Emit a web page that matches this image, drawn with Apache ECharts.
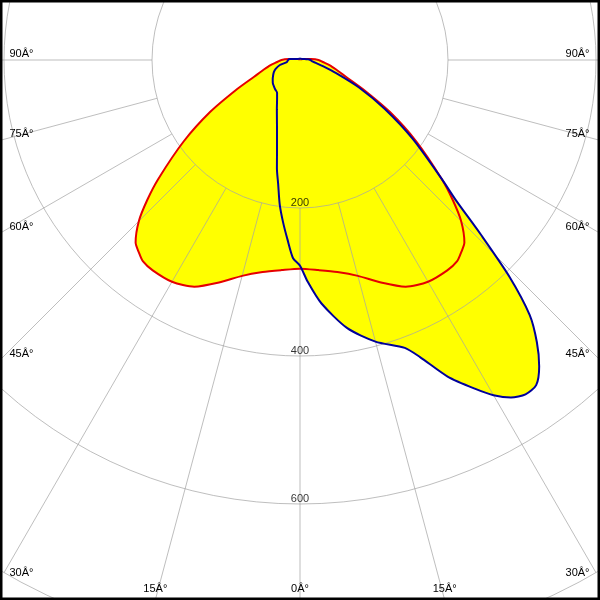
<!DOCTYPE html>
<html>
<head>
<meta charset="utf-8">
<script src="https://cdn.jsdelivr.net/npm/echarts@6/dist/echarts.min.js"></script>
<style>
html,body{margin:0;padding:0;background:#fff;}
#c{width:600px;height:600px;}
</style>
</head>
<body>
<div id="c"></div>
<script>
// C0 - C180 plane (red), symmetric: gamma (deg) and intensity
const redGamma = [0,5,10,15,20,25,30,35,38,40,42,45,47.5,50,55,60,65,70,75,80,85,90,95,100,110,120,135,150,165,180];
const redI     = [282,285,291,302,320,338,346,347,345,339,332,308,280,250,192,140,95,66,51,41,31,25,15,8,4,2,1,1,1,1];

// C90 - C270 plane (blue): gamma (deg, negative = left) and intensity
const blueGamma = [-180,-150,-120,-110,-100,-95,-90,-85,-81,-76,-70,-65,-60,-55,-50,-45,-40,-35,-30,-25,-20,-15,-12,-10,-8,-6,-4,-2,0,2,5,10,15,20,22,25,28,30,32,34,36,38,40,42,44,46,48,50,55,60,65,70,75,80,85,90,95,100,110,120,150,180];
const blueI     = [2,2,3,4,8,14,16,17,18,28,35,39,42,45,48,50,52,54,62,74,91,120,150,170,197,220,243,268,278,300,330,368,394,414,433,472,503,523,538,545,543,525,498,464,408,340,284,250,186,132,88,52,32,21,16,14,11,7,4,3,2,2];

// Grid
const ringValues = [200, 400, 600, 800];
const ringLabels = ['200', '400', '600'];
const spokeAngles = [-90,-75,-60,-45,-30,-15,0,15,30,45,60,75,90];
const spokeLabels = ['90Â°','75Â°','60Â°','45Â°','30Â°','15Â°','0Â°','15Â°','30Â°','45Â°','60Â°','75Â°','90Â°'];

const GRID = 'rgba(165,165,165,0.72)';
const FONT = 'Liberation Sans';

// build closed polar paths [radius, angle]
const redData = [];
for (let i = redGamma.length - 1; i >= 0; i--) redData.push([redI[i], -redGamma[i]]);
for (let i = 1; i < redGamma.length; i++) redData.push([redI[i], redGamma[i]]);
const blueData = blueGamma.map((g, i) => [blueI[i], g]);

const chart = echarts.init(document.getElementById('c'), null, {renderer: 'canvas'});

const series = [];
// yellow fills
[redData, blueData].forEach(d => series.push({
  type: 'line', coordinateSystem: 'polar', data: d, smooth: 0.25, symbol: 'none',
  lineStyle: {opacity: 0, width: 0}, areaStyle: {color: '#ffff00', opacity: 1},
  z: 1, silent: true, animation: false, clip: false
}));
// spokes
spokeAngles.forEach(a => series.push({
  type: 'line', coordinateSystem: 'polar', data: [[200, a], [1000, a]], symbol: 'none',
  lineStyle: {color: GRID, width: 1}, z: 5, silent: true, animation: false, clip: false
}));
// curves
series.push({
  type: 'line', coordinateSystem: 'polar', data: redData, smooth: 0.25, symbol: 'none',
  lineStyle: {color: '#e60000', width: 2}, z: 10, animation: false, clip: false
});
series.push({
  type: 'line', coordinateSystem: 'polar', data: blueData, smooth: 0.25, symbol: 'none',
  lineStyle: {color: '#00009a', width: 2}, z: 11, animation: false, clip: false
});
// ring labels
series.push({
  type: 'scatter', coordinateSystem: 'polar', symbolSize: 1,
  itemStyle: {color: 'transparent'},
  data: ringLabels.map(t => [Number(t), 0]),
  label: {show: true, position: 'inside', offset: [0, -5.5], formatter: p => String(p.value[0]),
          color: '#000', fontSize: 11, fontFamily: FONT},
  z: 12, animation: false, silent: true
});

chart.setOption({
  backgroundColor: '#fff',
  animation: false,
  polar: {center: [300, 60], radius: 592},
  angleAxis: {
    type: 'value', min: -180, max: 180, startAngle: 90, clockwise: false,
    axisLine: {show: false}, axisTick: {show: false}, axisLabel: {show: false}, splitLine: {show: false}
  },
  radiusAxis: {
    type: 'value', min: 0, max: ringValues[ringValues.length - 1], interval: 200,
    axisLine: {show: false}, axisTick: {show: false}, axisLabel: {show: false},
    splitLine: {show: true, lineStyle: {color: GRID, width: 1}}, z: 5
  },
  series: series
});

// angle labels at the frame edge
const W = 600, H = 600;
const graphics = [];
spokeAngles.forEach((a, i) => {
  const p1 = chart.convertToPixel({seriesIndex: 0}, [200, a]);
  const p2 = chart.convertToPixel({seriesIndex: 0}, [400, a]);
  const dx = p2[0] - p1[0], dy = p2[1] - p1[1];
  let best = Infinity, side = '';
  if (dx < -1e-6) { const t = (0 - p1[0]) / dx; if (t < best) { best = t; side = 'L'; } }
  if (dx > 1e-6) { const t = (W - p1[0]) / dx; if (t < best) { best = t; side = 'R'; } }
  if (dy > 1e-6) { const t = (H - p1[1]) / dy; if (t < best) { best = t; side = 'B'; } }
  const ex = p1[0] + dx * best, ey = p1[1] + dy * best;
  let x, y, align;
  if (side === 'L') { x = 9.5; y = ey - 6.5; align = 'left'; }
  else if (side === 'R') { x = 589.5; y = ey - 6.5; align = 'right'; }
  else { x = ex; y = 588.5; align = 'center'; }
  graphics.push({
    type: 'text', x: x, y: y, z: 20, silent: true,
    style: {text: spokeLabels[i], textAlign: align, textVerticalAlign: 'middle',
            fill: '#000', font: '11px "' + FONT + '"'}
  });
});
graphics.push({
  type: 'rect', z: 30, silent: true,
  shape: {x: 1, y: 1, width: 598, height: 598},
  style: {fill: null, stroke: '#000', lineWidth: 3}
});
chart.setOption({graphic: graphics});
</script>
</body>
</html>
